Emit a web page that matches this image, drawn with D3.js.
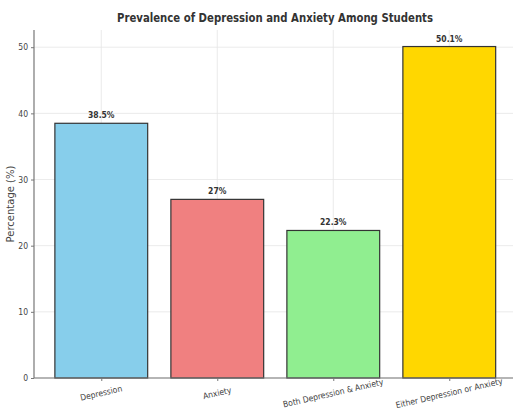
<!DOCTYPE html>
<html><head><meta charset="utf-8">
<script src="https://cdn.jsdelivr.net/npm/d3@7"></script>
<style>body{margin:0;background:#fff}svg{display:block}</style>
</head><body>
<svg id="c" width="513" height="414"></svg>
<script>
const categories = ["Depression","Anxiety","Both Depression & Anxiety","Either Depression or Anxiety"];
const values = [38.5, 27, 22.3, 50.1];
const valueLabels = ["38.5%","27%","22.3%","50.1%"];
const colors = ["#87CEEB","#F08080","#90EE90","#FFD700"];
const yTicks = [0,10,20,30,40,50];

const svg = d3.select("#c");
const mLeft = 34, mBottom = 378, mTop = 30, step = 116;
const x = d3.scaleLinear().domain([-0.58, 3.58]).range([mLeft, mLeft + step*4.16]);
const y = d3.scaleLinear().domain([0, 52.6]).range([mBottom, mTop]);
const font = "'DejaVu Sans Condensed','DejaVu Sans',sans-serif";

// grid
const g = svg.append("g");
g.selectAll("line.h").data(yTicks).join("line")
  .attr("x1", mLeft).attr("x2", 513).attr("y1", d=>y(d)).attr("y2", d=>y(d))
  .attr("stroke","#e6e6e6").attr("stroke-width",0.8);
g.selectAll("line.v").data(categories).join("line")
  .attr("x1",(d,i)=>x(i)).attr("x2",(d,i)=>x(i)).attr("y1",mTop).attr("y2",mBottom)
  .attr("stroke","#e6e6e6").attr("stroke-width",0.8);

// bars
const bw = 0.8;
svg.selectAll("rect.bar").data(values).join("rect")
  .attr("x",(d,i)=>x(i-bw/2)).attr("width",x(bw)-x(0))
  .attr("y",d=>y(d)).attr("height",d=>mBottom-y(d))
  .attr("fill",(d,i)=>colors[i]).attr("stroke","#333").attr("stroke-width",1.2);

// value labels
svg.selectAll("text.val").data(values).join("text")
  .attr("x",(d,i)=>x(i)).attr("y",d=>y(d)-5)
  .attr("text-anchor","middle").attr("font-family",font).attr("font-weight","bold")
  .attr("font-size",8.5).attr("fill","#333").text((d,i)=>valueLabels[i]);

// axes
const yAxis = d3.axisLeft(y).tickValues(yTicks).tickSize(3).tickPadding(3);
const ya = svg.append("g").attr("transform",`translate(${mLeft},0)`).call(yAxis);
ya.select(".domain").attr("stroke","#777").attr("stroke-width",1.2).attr("d",`M0,${mTop}V${mBottom}`);
ya.selectAll("text").attr("font-family",font).attr("font-size",8.5).attr("fill","#444");
ya.selectAll(".tick line").attr("stroke","#777");

const xAxis = d3.axisBottom(x).tickValues([0,1,2,3]).tickFormat(i=>categories[i]).tickSize(3);
const xa = svg.append("g").attr("transform",`translate(0,${mBottom})`).call(xAxis);
xa.select(".domain").attr("stroke","#777").attr("stroke-width",1.2).attr("d",`M${mLeft},0H513`);
xa.selectAll(".tick line").attr("stroke","#777");
xa.selectAll("text").attr("font-family",font).attr("font-size",8.5).attr("fill","#444")
  .attr("text-anchor","middle").attr("dy",0)
  .attr("transform","translate(0,18) rotate(-13)").attr("y",0);

// y label
svg.append("text").attr("transform",`translate(14,${(mTop+mBottom)/2}) rotate(-90)`)
  .attr("text-anchor","middle").attr("font-family","'DejaVu Sans',sans-serif")
  .attr("font-size",10).attr("fill","#444").text("Percentage (%)");

// title
svg.append("text").attr("x",275).attr("y",22).attr("text-anchor","middle")
  .attr("font-family",font).attr("font-weight","bold").attr("font-size",12)
  .attr("textLength",316).attr("lengthAdjust","spacingAndGlyphs")
  .attr("fill","#333").text("Prevalence of Depression and Anxiety Among Students");
</script>
</body></html>
